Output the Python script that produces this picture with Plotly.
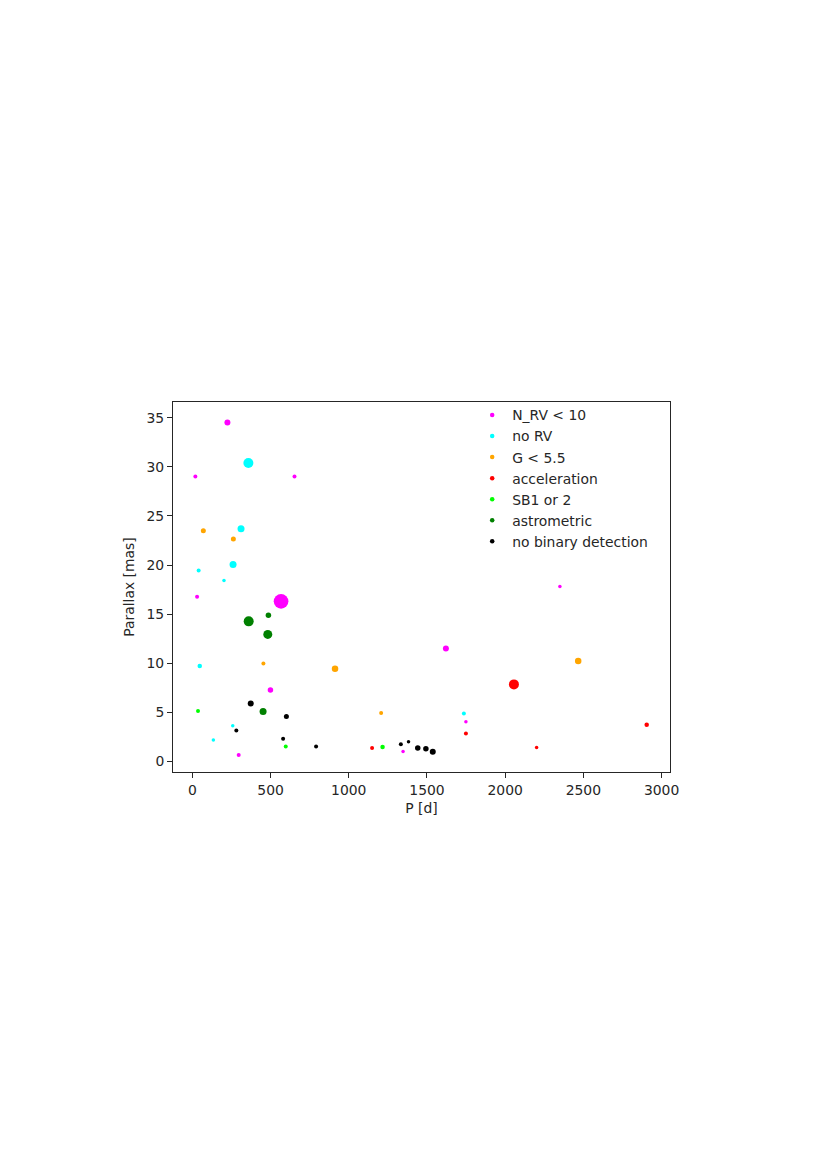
import plotly.graph_objects as go

# Data: (P [d], parallax [mas], marker diameter [px]) per category
nrv_P = [224, 19, 653, 30, 567, 499, 296, 1621, 1749, 1347, 2350]
nrv_plx = [34.55, 29.04, 29.04, 16.77, 16.29, 7.24, 0.61, 11.49, 4.01, 0.98, 17.8]
nrv_d = [6, 4, 4, 4, 14.7, 5.5, 4, 6, 3.5, 3.5, 3.5]

norv_P = [358, 311, 260, 40, 202, 47, 258, 134, 1736]
norv_plx = [30.4, 23.7, 20.06, 19.45, 18.43, 9.69, 3.6, 2.14, 4.86]
norv_d = [10, 7, 7, 4, 3.5, 4.5, 3.5, 3.5, 4]

g_P = [70, 262, 454, 912, 1207, 2467]
g_plx = [23.5, 22.65, 9.96, 9.42, 4.9, 10.2]
g_d = [5, 5, 4, 6.5, 4, 6.5]

acc_P = [2056, 1749, 1149, 2201, 2905]
acc_plx = [7.82, 2.82, 1.32, 1.39, 3.7]
acc_d = [10, 4, 4, 3.5, 4.5]

sb_P = [36, 597, 1216]
sb_plx = [5.1, 1.49, 1.43]
sb_d = [4, 4, 4.5]

ast_P = [486, 360, 482, 452]
ast_plx = [14.86, 14.25, 12.92, 5.06]
ast_d = [5.5, 10, 9, 7]

nob_P = [373, 601, 281, 580, 791, 1333, 1382, 1441, 1493, 1537]
nob_plx = [5.88, 4.55, 3.12, 2.28, 1.49, 1.7, 1.97, 1.32, 1.26, 0.95]
nob_d = [6, 5, 4, 4, 4, 4, 3.5, 5.5, 5.5, 6]

series = [
    ("N_RV < 10", nrv_P, nrv_plx, nrv_d, "#ff00ff"),
    ("no RV", norv_P, norv_plx, norv_d, "#00ffff"),
    ("G < 5.5", g_P, g_plx, g_d, "#ffa500"),
    ("acceleration", acc_P, acc_plx, acc_d, "#ff0000"),
    ("SB1 or 2", sb_P, sb_plx, sb_d, "#00ff00"),
    ("astrometric", ast_P, ast_plx, ast_d, "#008000"),
    ("no binary detection", nob_P, nob_plx, nob_d, "#000000"),
]

fig = go.Figure()
for name, xs, ys, ds, col in series:
    fig.add_trace(go.Scatter(
        x=xs, y=ys, mode="markers", name=name, showlegend=False,
        legendgroup=name, opacity=1,
        marker=dict(size=ds, color=col, opacity=1, line=dict(width=0)),
    ))
# legend-only entries with small dots (like matplotlib's legend markers)
for name, xs, ys, ds, col in series:
    fig.add_trace(go.Scatter(
        x=[None], y=[None], mode="markers", name=name, legendgroup=name,
        marker=dict(size=4.5, color=col, opacity=1, line=dict(width=0)),
    ))

font = dict(family="DejaVu Sans", size=13.9, color="#262626")
axis_common = dict(
    showgrid=False, zeroline=False, showline=True, linecolor="#262626",
    linewidth=1, mirror=True, ticks="outside", ticklen=5, tickwidth=1,
    tickcolor="#262626", tickfont=font,
)
fig.update_layout(
    width=819, height=1162,
    margin=dict(l=165, r=157, t=394, b=398),
    paper_bgcolor="white", plot_bgcolor="white",
    font=font,
    xaxis=dict(range=[-124, 3054], tickvals=[0, 500, 1000, 1500, 2000, 2500, 3000],
               title=dict(text="P [d]", font=font, standoff=6), **axis_common),
    yaxis=dict(range=[-1.12, 36.63], tickvals=[0, 5, 10, 15, 20, 25, 30, 35],
               title=dict(text="Parallax [mas]", font=font, standoff=8), **axis_common),
    legend=dict(
        x=0.602, y=1.007, xanchor="left", yanchor="top",
        bgcolor="rgba(0,0,0,0)", borderwidth=0, font=font,
        itemsizing="trace", itemwidth=30, tracegroupgap=0,
    ),
)
fig.write_html("out.html")
